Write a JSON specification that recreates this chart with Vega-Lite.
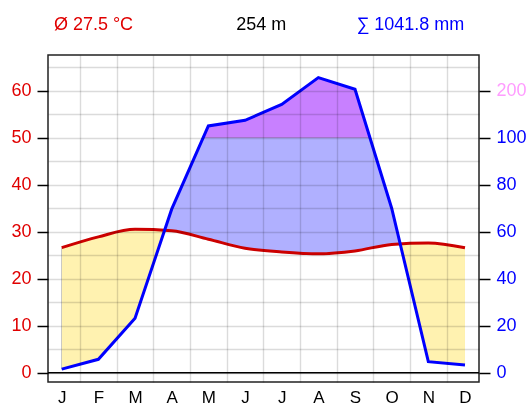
{
  "$schema": "https://vega.github.io/schema/vega-lite/v6.json",
  "width": 431,
  "height": 327,
  "autosize": "none",
  "padding": {"left": 48, "top": 55, "right": 48, "bottom": 23},
  "background": "white",
  "config": {
    "view": {"stroke": "#222222", "strokeWidth": 1.5, "fill": "white"},
    "font": "Liberation Sans"
  },
  "data": {
    "values": [
      {"i": 1, "month": "J", "temp": 26.6, "precip": 1.5},
      {"i": 2, "month": "F", "temp": 28.9, "precip": 5.7},
      {"i": 3, "month": "M", "temp": 30.5, "precip": 23.2},
      {"i": 4, "month": "A", "temp": 30.2, "precip": 69.6},
      {"i": 5, "month": "M", "temp": 28.4, "precip": 125},
      {"i": 6, "month": "J", "temp": 26.5, "precip": 137},
      {"i": 7, "month": "J", "temp": 25.7, "precip": 171},
      {"i": 8, "month": "A", "temp": 25.3, "precip": 228},
      {"i": 9, "month": "S", "temp": 25.9, "precip": 203},
      {"i": 10, "month": "O", "temp": 27.3, "precip": 70},
      {"i": 11, "month": "N", "temp": 27.6, "precip": 4.7},
      {"i": 12, "month": "D", "temp": 26.6, "precip": 3.3}
    ]
  },
  "transform": [
    {"calculate": "datum.precip <= 100 ? datum.precip / 2 : 50 + (datum.precip - 100) / 10", "as": "p"}
  ],
  "layer": [
    {
      "mark": {"type": "area", "color": "black", "interpolate": "linear"},
      "encoding": {
        "x": {"field": "i", "type": "quantitative", "scale": {"domain": [0.626, 12.382], "nice": false, "zero": false}, "axis": null},
        "y": {"field": "temp", "type": "quantitative", "scale": {"domain": [-1.98, 67.6], "nice": false, "zero": false}, "axis": null},
        "y2": {"field": "p"}
      }
    },
    {
      "mark": {"type": "area", "color": "#fff2b0", "blend": "screen", "interpolate": "monotone"},
      "encoding": {
        "x": {"field": "i", "type": "quantitative", "axis": null},
        "y": {"field": "temp", "type": "quantitative", "axis": null},
        "y2": {"datum": 0}
      }
    },
    {
      "mark": {"type": "area", "color": "#b0b0ff", "blend": "screen", "interpolate": "monotone"},
      "encoding": {
        "x": {"field": "i", "type": "quantitative", "axis": null},
        "y": {"field": "temp", "type": "quantitative", "axis": null},
        "y2": {"datum": 50}
      }
    },
    {
      "mark": {"type": "area", "color": "#c880ff", "blend": "screen"},
      "encoding": {
        "x": {"field": "i", "type": "quantitative", "axis": null},
        "y": {"datum": 50, "type": "quantitative", "axis": null},
        "y2": {"datum": 66}
      }
    },
    {
      "data": {"values": [{}]},
      "mark": {"type": "rule", "color": "black", "strokeWidth": 1.5},
      "encoding": {
        "y": {"datum": 0, "type": "quantitative", "axis": null}
      }
    },
    {
      "mark": {"type": "line", "color": "#cc0000", "strokeWidth": 3, "interpolate": "monotone"},
      "encoding": {
        "x": {
          "field": "i", "type": "quantitative",
          "axis": {
            "orient": "bottom",
            "values": [1, 2, 3, 4, 5, 6, 7, 8, 9, 10, 11, 12],
            "labelExpr": "['J','F','M','A','M','J','J','A','S','O','N','D'][datum.value - 1]",
            "ticks": false,
            "domain": false,
            "grid": false,
            "labelFontSize": 17,
            "labelFont": "Liberation Sans",
            "labelColor": "black",
            "labelPadding": 7,
            "labelOverlap": false,
            "labelFlush": false,
            "labelBound": false,
            "title": null,
            "zindex": 1
          }
        },
        "y": {
          "field": "temp", "type": "quantitative",
          "axis": {
            "orient": "left",
            "values": [0, 5, 10, 15, 20, 25, 30, 35, 40, 45, 50, 55, 60, 65],
            "labelExpr": "datum.value % 10 == 0 && datum.value <= 60 ? datum.label : ''",
            "tickOpacity": {"condition": {"test": "datum.value % 10 == 0 && datum.value <= 60", "value": 1}, "value": 0},
            "tickSize": 11,
            "tickWidth": 1.5,
            "tickColor": "black",
            "grid": true,
            "gridColor": "black",
            "gridWidth": 1.4,
            "gridOpacity": 0.14,
            "domain": false,
            "labelFontSize": 18,
            "labelFont": "Liberation Sans",
            "labelColor": "#e00000",
            "labelPadding": 6,
            "labelOverlap": false,
            "labelFlush": false,
            "labelBound": false,
            "title": null,
            "zindex": 1
          }
        }
      }
    },
    {
      "mark": {"type": "line", "color": "#0000ff", "strokeWidth": 3, "interpolate": "linear"},
      "encoding": {
        "x": {
          "field": "i", "type": "quantitative",
          "axis": {
            "orient": "top",
            "values": [1.5, 2.5, 3.5, 4.5, 5.5, 6.5, 7.5, 8.5, 9.5, 10.5, 11.5],
            "labels": false,
            "ticks": false,
            "domain": false,
            "grid": true,
            "gridColor": "black",
            "gridWidth": 1.4,
            "gridOpacity": 0.14,
            "title": null,
            "zindex": 1
          }
        },
        "y": {
          "field": "p", "type": "quantitative",
          "axis": {
            "orient": "right",
            "values": [0, 10, 20, 30, 40, 50, 60],
            "labelExpr": "datum.value <= 50 ? '' + (datum.value * 2) : '' + (100 + (datum.value - 50) * 10)",
            "labelColor": {"condition": {"test": "datum.value > 50", "value": "#ff9cff"}, "value": "#0000ff"},
            "tickSize": 11,
            "tickWidth": 1.5,
            "tickColor": "black",
            "grid": false,
            "domain": false,
            "labelFontSize": 18,
            "labelFont": "Liberation Sans",
            "labelPadding": 6,
            "labelOverlap": false,
            "labelFlush": false,
            "labelBound": false,
            "title": null,
            "zindex": 1
          }
        }
      }
    },
    {
      "data": {"values": [{"label": "Ø 27.5 °C"}]},
      "mark": {"type": "text", "color": "#e00000", "fontSize": 18, "font": "Liberation Sans", "align": "center", "baseline": "alphabetic"},
      "encoding": {
        "x": {"datum": 1.867, "type": "quantitative", "axis": null},
        "y": {"datum": 73, "type": "quantitative", "axis": null},
        "text": {"field": "label"}
      }
    },
    {
      "data": {"values": [{"label": "254 m"}]},
      "mark": {"type": "text", "color": "black", "fontSize": 18, "font": "Liberation Sans", "align": "center", "baseline": "alphabetic"},
      "encoding": {
        "x": {"datum": 6.44, "type": "quantitative", "axis": null},
        "y": {"datum": 73, "type": "quantitative", "axis": null},
        "text": {"field": "label"}
      }
    },
    {
      "data": {"values": [{"label": "∑ 1041.8 mm"}]},
      "mark": {"type": "text", "color": "#0000ff", "fontSize": 18, "font": "Liberation Sans", "align": "center", "baseline": "alphabetic"},
      "encoding": {
        "x": {"datum": 10.51, "type": "quantitative", "axis": null},
        "y": {"datum": 73, "type": "quantitative", "axis": null},
        "text": {"field": "label"}
      }
    }
  ],
  "resolve": {"axis": {"y": "independent", "x": "independent"}}
}
